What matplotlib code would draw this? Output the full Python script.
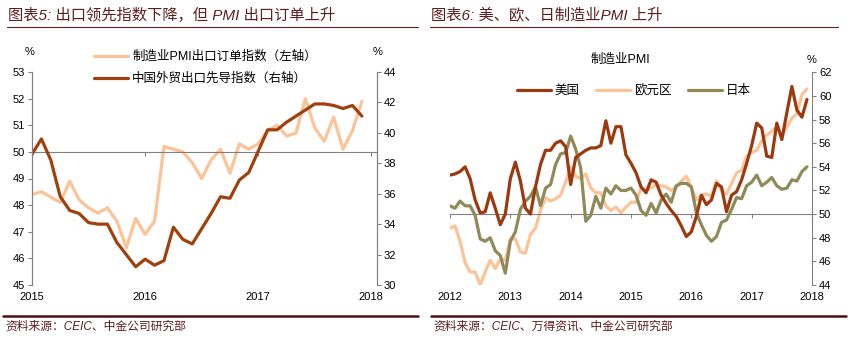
import matplotlib
matplotlib.use("Agg")
import matplotlib.pyplot as plt
from matplotlib.lines import Line2D

plt.rcParams['font.family'] = ['Liberation Sans', 'Noto Sans CJK SC', 'DejaVu Sans']
plt.rcParams['lines.solid_capstyle'] = 'round'
plt.rcParams['lines.solid_joinstyle'] = 'round'

# 图表5：2015-01 ~ 2017-12，月度
pmi_export = [48.4, 48.5, 48.3, 48.1, 48.9, 48.2, 47.9, 47.7, 47.9, 47.4, 46.4, 47.5,
              46.9, 47.4, 50.2, 50.1, 50.0, 49.6, 49.0, 49.7, 50.1, 49.2, 50.3, 50.1,
              50.3, 50.8, 51.0, 50.6, 50.7, 52.0, 50.9, 50.4, 51.3, 50.1, 50.8, 51.9]
export_lead = [38.6, 39.6, 38.2, 35.8, 34.9, 34.7, 34.1, 34.0, 34.0, 32.8, 32.0, 31.2,
               31.7, 31.3, 31.6, 33.8, 33.0, 32.7, 33.7, 34.7, 35.8, 35.7, 36.9, 37.4,
               38.8, 40.2, 40.2, 40.7, 41.1, 41.5, 41.9, 41.9, 41.8, 41.6, 41.8, 41.1]
left_years = ['2015', '2016', '2017', '2018']
left_names = ['制造业PMI出口订单指数（左轴）', '中国外贸出口先导指数（右轴）']

# 图表6：2012-01 ~ 2017-12，月度
us_pmi = [53.3, 53.4, 53.6, 54.0, 53.0, 51.2, 50.1, 50.2, 51.8, 50.5, 49.1, 50.0,
          53.0, 54.4, 52.8, 50.5, 50.0, 52.3, 54.2, 55.4, 55.4, 56.0, 56.2, 55.7,
          52.5, 54.8, 55.1, 55.4, 55.6, 55.6, 55.8, 57.9, 56.0, 57.4, 57.4, 55.0,
          54.3, 53.5, 52.3, 51.8, 52.9, 52.7, 51.6, 50.9, 50.3, 49.8, 49.0, 48.1,
          48.5, 49.8, 51.6, 50.8, 51.2, 52.6, 52.3, 50.2, 51.6, 51.9, 52.9, 54.3,
          55.8, 57.7, 57.3, 54.9, 54.8, 57.7, 56.3, 58.6, 60.8, 58.8, 58.2, 59.7]
ez_pmi = [48.8, 49.0, 47.7, 45.9, 45.1, 45.1, 44.0, 45.1, 46.1, 45.4, 46.2, 46.1,
          47.9, 47.9, 46.8, 46.7, 48.3, 48.8, 50.3, 51.4, 51.1, 51.3, 51.6, 52.7,
          54.0, 53.2, 53.0, 53.4, 52.2, 51.8, 51.8, 50.7, 50.3, 50.6, 50.1, 50.6,
          51.0, 51.0, 52.2, 52.0, 52.2, 52.5, 52.4, 52.3, 52.0, 52.3, 52.8, 53.2,
          52.3, 51.2, 51.6, 51.7, 51.5, 52.8, 52.0, 51.7, 52.6, 53.5, 53.7, 54.9,
          55.2, 55.4, 56.2, 56.7, 57.0, 57.4, 56.6, 57.4, 58.1, 58.5, 60.1, 60.6]
jp_pmi = [50.7, 50.5, 51.1, 50.7, 50.7, 49.9, 47.9, 47.7, 48.0, 46.9, 46.5, 45.0,
          47.7, 48.5, 50.4, 51.1, 51.5, 52.3, 50.7, 52.2, 52.5, 54.2, 55.1, 55.2,
          56.6, 55.5, 53.9, 49.4, 49.9, 51.5, 50.5, 52.2, 51.7, 52.4, 52.0, 52.0,
          52.2, 51.6, 50.3, 49.9, 50.9, 50.1, 51.2, 51.7, 51.0, 52.4, 52.6, 52.6,
          52.3, 50.1, 49.1, 48.2, 47.7, 48.1, 49.3, 49.5, 50.4, 51.4, 51.3, 52.4,
          52.7, 53.3, 52.4, 52.7, 53.1, 52.4, 52.1, 52.2, 52.9, 52.8, 53.6, 54.0]
right_years = ['2012', '2013', '2014', '2015', '2016', '2017', '2018']
right_names = ['美国', '欧元区', '日本']

LIGHT = '#FBC397'
DARK = '#A0410D'
US_C = '#9B3A10'
JP_C = '#8F8A5A'
GREY = '#808080'
MAROON = '#5C1E1E'

W, H = 862, 359
fig = plt.figure(figsize=(W / 100, H / 100), dpi=100)


def fx(px):
    return px / W


def fy(py):
    return 1 - py / H


def style_xaxis(ax, ticks, labels):
    # 坐标轴画在 50 处，年份标签放在底部
    ax.spines['bottom'].set_position(('data', 50))
    ax.spines['bottom'].set_color(GREY)
    ax.set_xticks(ticks)
    ax.tick_params(axis='x', direction='out', length=3, color=GREY, labelbottom=False)
    sec = ax.secondary_xaxis(0)
    sec.set_xticks(ticks, labels)
    sec.spines['bottom'].set_visible(False)
    sec.tick_params(length=0, labelsize=8, pad=5)


# ---------- 图表5 ----------
ax1 = fig.add_axes([fx(32), fy(285), fx(345), (285 - 72) / H])
ax1r = ax1.twinx()
x1 = list(range(len(pmi_export)))
l1, = ax1.plot(x1, pmi_export, color=LIGHT, lw=2.3)
l2, = ax1r.plot(x1, export_lead, color=DARK, lw=2.3)
ax1.set_xlim(0, 36.6)
ax1.set_ylim(45, 53)
ax1r.set_ylim(30, 44)
ax1.set_yticks(range(45, 54))
ax1r.set_yticks(range(30, 45, 2))
for a in (ax1, ax1r):
    a.spines['top'].set_visible(False)
    a.spines['left'].set_color(GREY)
    a.spines['right'].set_color(GREY)
    a.tick_params(axis='y', direction='out', length=3, color=GREY, labelsize=8, pad=2)
ax1r.spines['bottom'].set_visible(False)
style_xaxis(ax1, [0, 12, 24, 36], left_years)

fig.text(fx(30), fy(52), '%', fontsize=8, ha='center', va='center')
fig.text(fx(378), fy(52), '%', fontsize=8, ha='center', va='center')
fig.legend([l1, l2], left_names, loc='upper left', bbox_to_anchor=(fx(94), fy(51)),
           frameon=False, fontsize=9, handlelength=2.7, handletextpad=0.35,
           labelspacing=0.75, borderaxespad=0, borderpad=0)

# ---------- 图表6 ----------
ax2 = fig.add_axes([fx(450), fy(285), fx(362), (285 - 72.3) / H])
x2 = list(range(len(us_pmi)))
h1, = ax2.plot(x2, us_pmi, color=US_C, lw=2.3, zorder=4)
h2, = ax2.plot(x2, ez_pmi, color=LIGHT, lw=2.3, zorder=2)
h3, = ax2.plot(x2, jp_pmi, color=JP_C, lw=2.3, zorder=3)
ax2.set_xlim(0, 72)
ax2.set_ylim(44, 62)
ax2.set_yticks(range(44, 63, 2))
ax2.yaxis.tick_right()
for s in ('top', 'left'):
    ax2.spines[s].set_visible(False)
ax2.spines['right'].set_color(GREY)
ax2.tick_params(axis='y', direction='out', length=3, color=GREY, labelsize=8, pad=2)
style_xaxis(ax2, list(range(0, 73, 12)), right_years)

fig.text(fx(620), fy(60), '制造业PMI', fontsize=9, ha='center', va='center')
fig.text(fx(812), fy(60), '%', fontsize=8, ha='center', va='center')
fig.legend([h1, h2, h3], right_names, loc='center', bbox_to_anchor=(fx(634), fy(91)),
           ncol=3, frameon=False, fontsize=9, handlelength=2.7, handletextpad=0.35,
           columnspacing=1.3, borderaxespad=0, borderpad=0)

# ---------- 标题、来源 ----------
fig.text(fx(8), fy(15), '图表5: 出口领先指数下降，但 PMI 出口订单上升', fontsize=11,
         style='italic', color=MAROON, va='center')
fig.text(fx(431), fy(15), '图表6: 美、欧、日制造业PMI 上升', fontsize=11,
         style='italic', color=MAROON, va='center')
for xa, xb in ((7, 418), (430, 838)):
    fig.add_artist(Line2D([fx(xa), fx(xb)], [fy(27), fy(27)], color=MAROON, lw=0.8))
for xa, xb in ((3, 418), (431, 846)):
    fig.add_artist(Line2D([fx(xa), fx(xb)], [fy(316), fy(316)], color='#4B0F1A', lw=1.8))
fig.text(fx(5), fy(327), '资料来源：CEIC、中金公司研究部', fontsize=8.5,
         style='italic', color=MAROON, va='center')
fig.text(fx(433), fy(327), '资料来源：CEIC、万得资讯、中金公司研究部', fontsize=8.5,
         style='italic', color=MAROON, va='center')

fig.savefig('out.png', dpi=100)
